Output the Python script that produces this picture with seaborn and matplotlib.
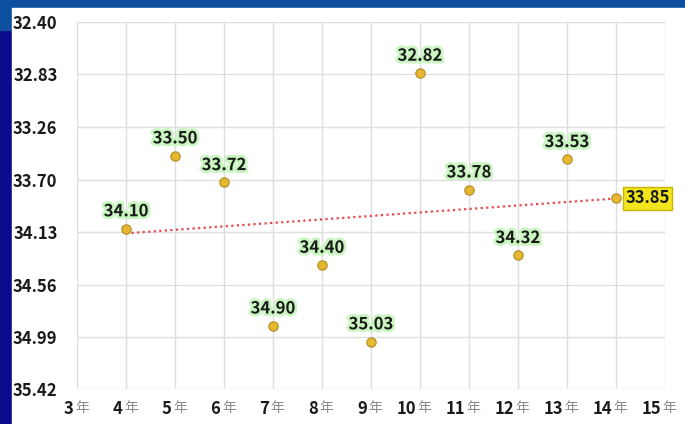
import numpy as np
import pandas as pd
import seaborn as sns
import matplotlib.pyplot as plt
import matplotlib.patheffects as pe
from matplotlib.patches import Rectangle

years = [4, 5, 6, 7, 8, 9, 10, 11, 12, 13, 14]
values = [34.10, 33.50, 33.72, 34.90, 34.40, 35.03, 32.82, 33.78, 34.32, 33.53, 33.85]
x_ticks = [3, 4, 5, 6, 7, 8, 9, 10, 11, 12, 13, 14, 15]
x_unit = "年"
y_ticks = [32.40, 32.83, 33.26, 33.70, 34.13, 34.56, 34.99, 35.42]
y_labels = ["32.40", "32.83", "33.26", "33.70", "34.13", "34.56", "34.99", "35.42"]

df = pd.DataFrame({"year": years, "value": values})

sns.set_style("white")
plt.rcParams["font.family"] = ["Noto Sans CJK SC", "DejaVu Sans"]

fig = plt.figure(figsize=(6.85, 4.24), dpi=100, facecolor="#0a0a8c")
# white slide panel with blue band on top
fig.patches.append(Rectangle((0, 0.93), 1, 0.07, transform=fig.transFigure,
                             color="#0b4f9e", zorder=0))
fig.patches.append(Rectangle((0.0175, 0), 1, 0.981, transform=fig.transFigure,
                             color="white", zorder=0.5))

ax = fig.add_axes([0.1124, 0.0825, 0.858, 0.8655])
ax.set_zorder(2)
ax.set_facecolor("white")

# trend line (linear fit over the data range)
sns.regplot(x="year", y="value", data=df, ax=ax, scatter=False, ci=None,
            line_kws=dict(color="#e8474c", linestyle=(0, (1, 1.5)), linewidth=1.6))
sns.scatterplot(x="year", y="value", data=df, ax=ax, s=45, color="#e6b830",
                edgecolor="#b08a20", linewidth=0.8, zorder=5)

glow = [pe.withStroke(linewidth=4, foreground="#c9f5c0")]
for x, v in zip(years[:-1], values[:-1]):
    ax.annotate("%.2f" % v, (x, v), xytext=(0, 6), textcoords="offset points",
                ha="center", va="bottom", fontsize=12, fontweight="bold",
                color="#1a1a1a", path_effects=glow, zorder=6)
ax.annotate("%.2f" % values[-1], (years[-1], values[-1]), xytext=(7, 0),
            textcoords="offset points", ha="left", va="center", fontsize=12,
            fontweight="bold", color="#1a1a1a", zorder=6,
            bbox=dict(boxstyle="square,pad=0.15", fc="#f2e51c", ec="#c8b400", lw=1))

ax.set_xlim(3, 15)
ax.set_ylim(35.42, 32.40)
ax.set_xticks(x_ticks)
ax.set_xticklabels([])
# x labels: bold number + light unit
xtrans = ax.get_xaxis_transform()
for t in x_ticks:
    ax.annotate(str(t), (t, 0), xycoords=xtrans, xytext=(-2.5, -8),
                textcoords="offset points", ha="right", va="top",
                fontsize=12, fontweight="bold", color="#1a1a1a",
                annotation_clip=False)
    ax.annotate(x_unit, (t, 0), xycoords=xtrans, xytext=(-1.5, -8.5),
                textcoords="offset points", ha="left", va="top",
                fontsize=10, fontweight="light", color="#8a8a8a",
                annotation_clip=False)
ax.set_yticks(y_ticks)
ax.set_yticklabels(y_labels, fontsize=12, fontweight="bold", color="#1a1a1a")
ax.tick_params(axis="y", pad=14, length=0)
ax.tick_params(axis="x", length=0)
ax.grid(True, color="#dedede", linewidth=1)
ax.set_xlabel("")
ax.set_ylabel("")
for s in ax.spines.values():
    s.set_visible(False)

plt.savefig("out.png", dpi=100, facecolor=fig.get_facecolor())
